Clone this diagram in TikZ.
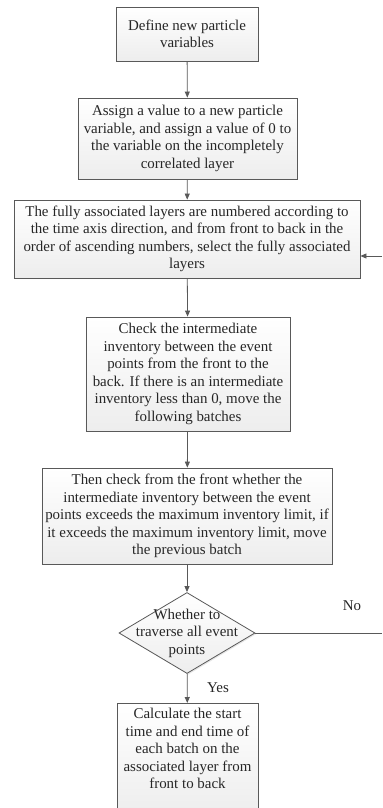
\documentclass[tikz,border=0pt]{standalone}
\usepackage{fontspec}
\setmainfont{Liberation Serif}
\usetikzlibrary{arrows.meta,shapes.geometric,shadows}
\tikzset{
  box/.style={draw=black!65, line width=0.8bp, top color=white, bottom color=black!7,
    drop shadow={shadow xshift=1.2bp, shadow yshift=-1.2bp, opacity=0.2},
    align=center, inner sep=1bp, font=\fontsize{15}{17.6}\selectfont, text=black!85},
  conn/.style={draw=black!65, line width=0.8bp, -{Triangle[length=6bp,width=5bp]}},
  plain/.style={draw=black!65, line width=0.8bp},
  lbl/.style={font=\fontsize{15}{17.6}\selectfont, text=black!85},
}
\begin{document}
\begin{tikzpicture}[x=1bp,y=-1bp]
\useasboundingbox (0,0) rectangle (382,808);
\clip (0,0) rectangle (382,808);
\node[box, minimum width=142bp, minimum height=54bp] (b1) at (187,34) {Define new particle\\variables};
\node[box, minimum width=219bp, minimum height=81bp] (b2) at (187.5,138.5) {Assign a value to a new particle\\variable, and assign a value of 0 to\\the variable on the incompletely\\correlated layer};
\node[box, minimum width=346bp, minimum height=78bp] (b3) at (187,239) {The fully associated layers are numbered according to\\the time axis direction, and from front to back in the\\order of ascending numbers, select the fully associated\\layers};
\node[box, minimum width=204bp, minimum height=114bp] (b4) at (188,374) {Check the intermediate\\inventory between the event\\points from the front to the\\back. If there is an intermediate\\inventory less than 0, move the\\following batches};
\node[box, minimum width=290bp, minimum height=96bp] (b5) at (187,516) {Then check from the front whether the\\intermediate inventory between the event\\points exceeds the maximum inventory limit, if\\it exceeds the maximum inventory limit, move\\the previous batch};
\node[diamond, draw=black!65, line width=0.8bp, top color=white, bottom color=black!7,
  drop shadow={shadow xshift=1.2bp, shadow yshift=-1.2bp, opacity=0.2},
  minimum width=136bp, minimum height=81bp, inner sep=0pt] (d) at (187,633) {};
\node[lbl, align=center] (dt) at (187,633) {Whether to\\traverse all event\\points};
\node[box, minimum width=141bp, minimum height=112bp, anchor=north] (b6) at (187.5,703) {Calculate the start\\time and end time of\\each batch on the\\associated layer from\\front to back\\[4bp]};
\coordinate (noend) at (382,633);
\coordinate (backstart) at (382,256);
\draw[conn] (b1) -- (b2);
\draw[conn] (b2) -- (b3);
\draw[conn] (b3) -- (b4);
\draw[conn] (b4) -- (b5);
\draw[conn] (b5) -- (d);
\draw[conn] (d) -- (b6);
\draw[plain] (d.east) -- (noend);
\draw[conn] (backstart) -- (b3.east |- backstart);
\node[lbl] (no) at (352,606) {No};
\node[lbl] (yes) at (218,688) {Yes};
\end{tikzpicture}
\end{document}
